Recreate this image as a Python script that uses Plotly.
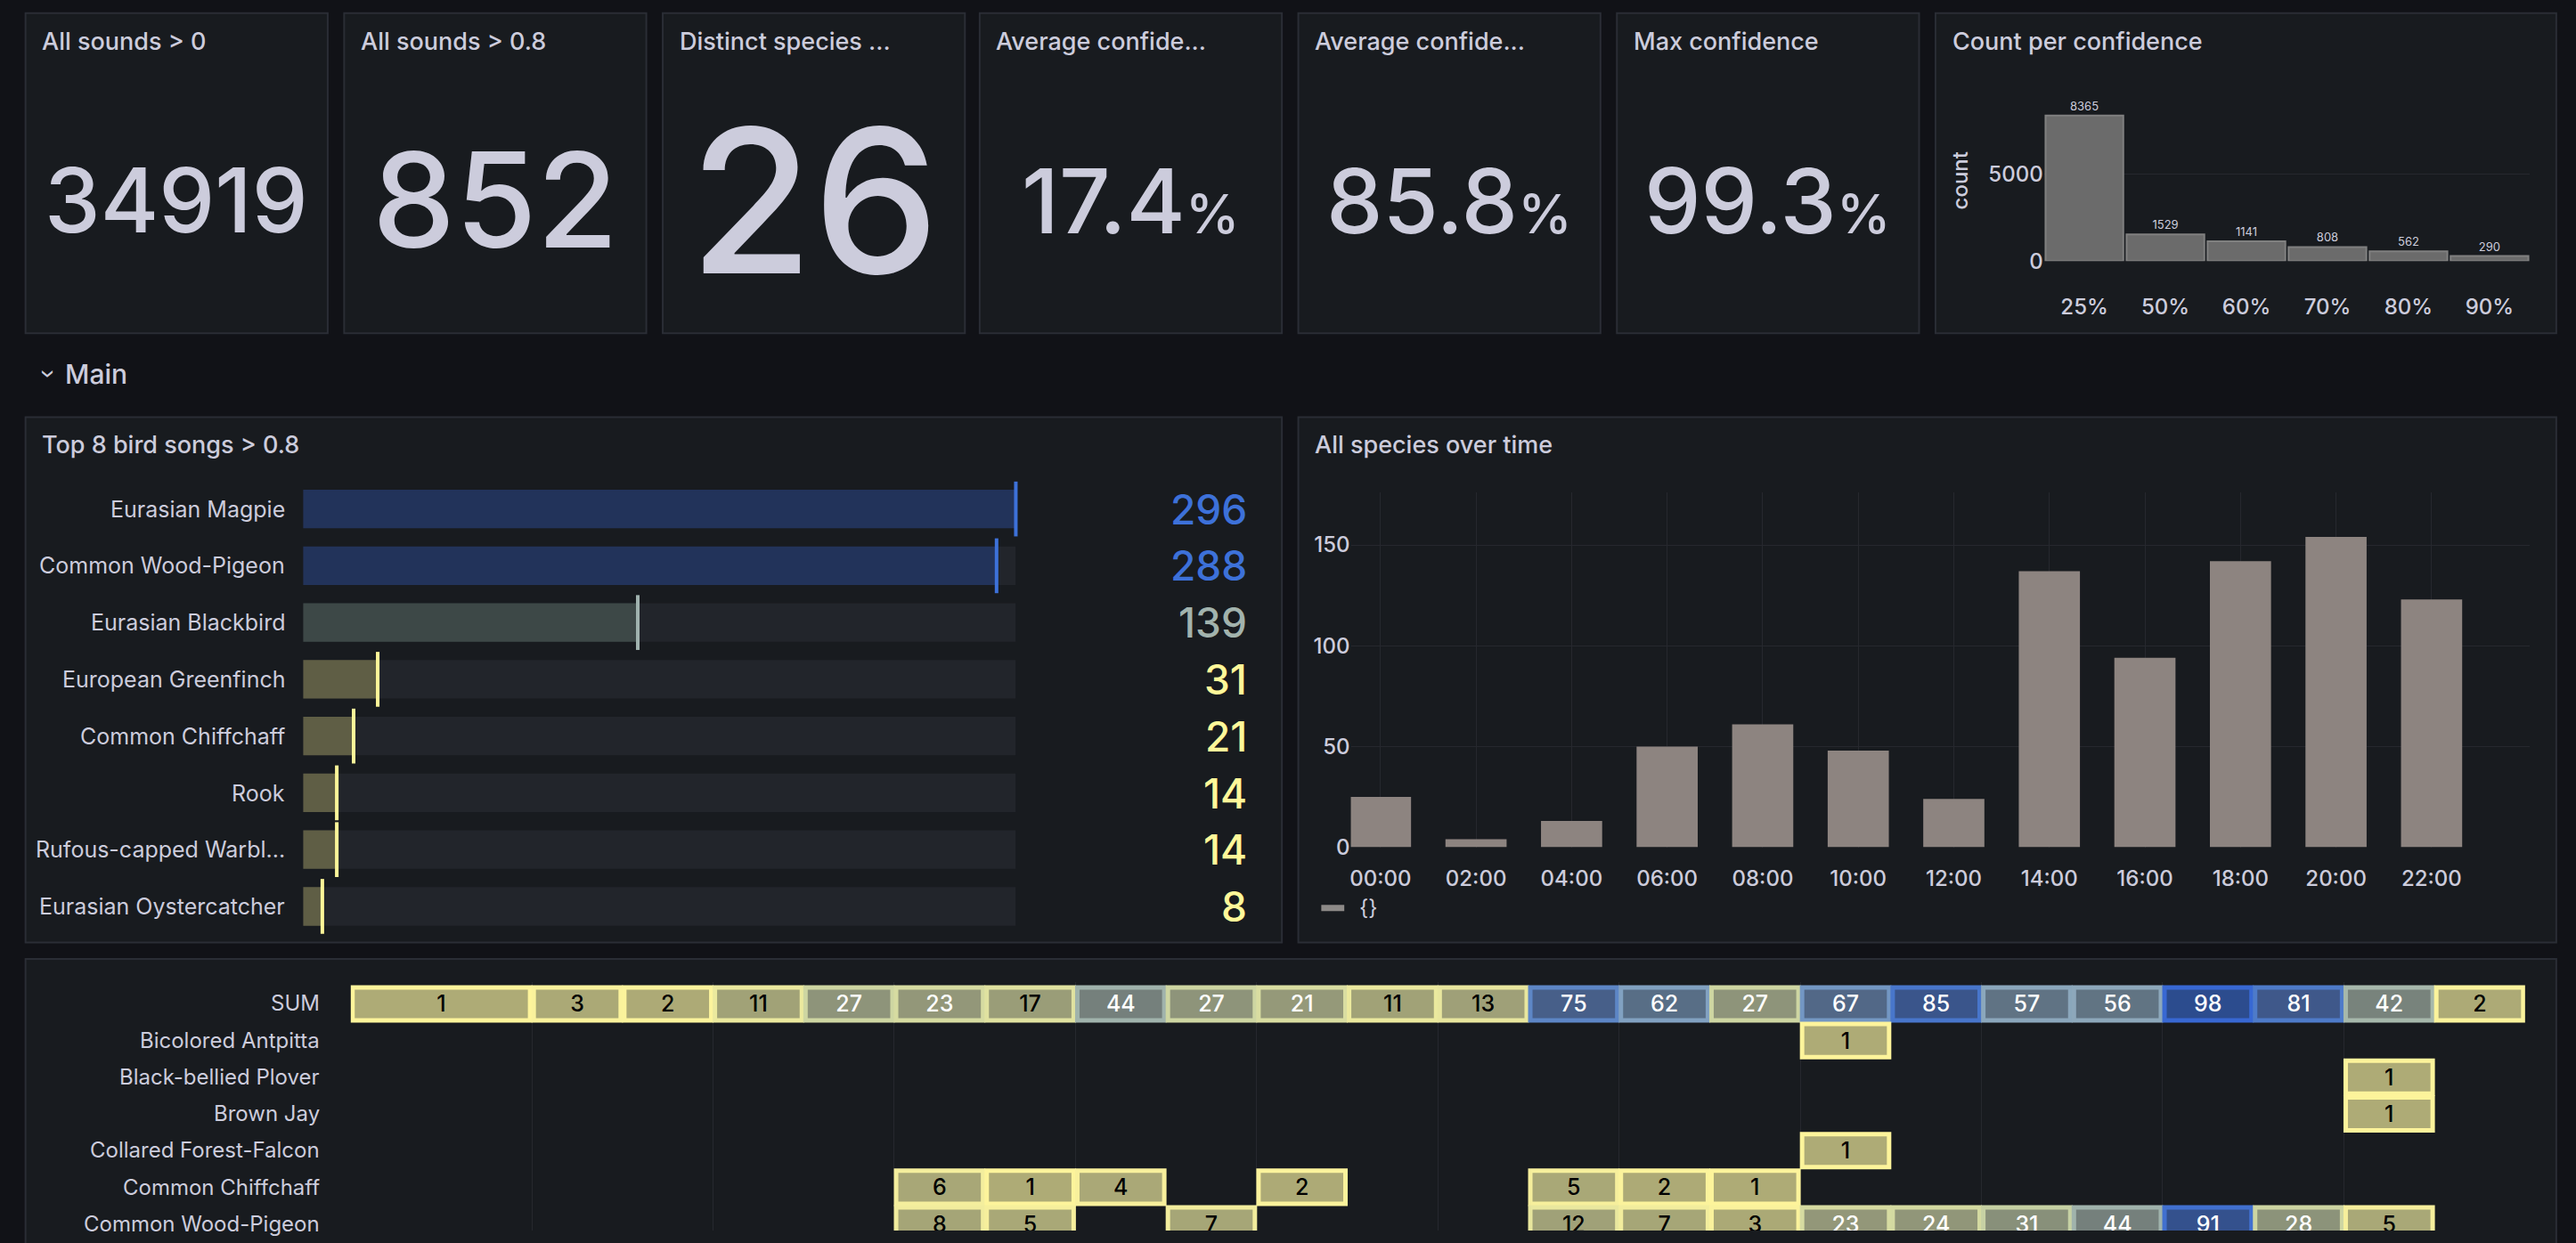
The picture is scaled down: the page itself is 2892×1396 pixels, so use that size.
import plotly.graph_objects as go

W, H = 2892, 1396
DW, DH = 1568, 757          # layout was measured on a 1568 wide screenshot
S = W / DW                  # px scale
YF = 0.99                   # rendered page comes out ~1% shorter


def px(x):
    return x / DW


def py(y):
    return 1 - (y / YF) / DH


BG = "#111217"
PANEL = "#181b1f"
EDGE = "#2a2d35"
TXT = "#ccccdc"
GRID = "#26282e"
FONT = "Inter"

# ---- data --------------------------------------------------------------
stats = [
    ("All sounds > 0", "34919", "", 54),
    ("All sounds > 0.8", "852", "", 80),
    ("Distinct species ...", "26", "", 122),
    ("Average confide...", "17.4", "%", 55),
    ("Average confide...", "85.8", "%", 55),
    ("Max confidence", "99.3", "%", 55),
]
stat_x = [(15, 199), (209, 393), (403, 587), (596, 780), (790, 974), (984, 1168)]

conf_labels = ["25%", "50%", "60%", "70%", "80%", "90%"]
conf_counts = [8365, 1529, 1141, 808, 562, 290]

top_birds = ["Eurasian Magpie", "Common Wood-Pigeon", "Eurasian Blackbird",
             "European Greenfinch", "Common Chiffchaff", "Rook",
             "Rufous-capped Warbl...", "Eurasian Oystercatcher"]
top_counts = [296, 288, 139, 31, 21, 14, 14, 8]

hours = ["00:00", "02:00", "04:00", "06:00", "08:00", "10:00",
         "12:00", "14:00", "16:00", "18:00", "20:00", "22:00"]
hour_counts = [25, 4, 13, 50, 61, 48, 24, 137, 94, 142, 154, 123]

heat_rows = ["SUM", "Bicolored Antpitta", "Black-bellied Plover", "Brown Jay",
             "Collared Forest-Falcon", "Common Chiffchaff", "Common Wood-Pigeon"]
# (row, start hour, span, value)
heat_cells = [(0, 0, 2, 1)] + [(0, h, 1, v) for h, v in zip(
    range(2, 24),
    [3, 2, 11, 27, 23, 17, 44, 27, 21, 11, 13, 75, 62, 27, 67, 85, 57, 56, 98, 81, 42, 2])]
heat_cells += [(1, 16, 1, 1), (2, 22, 1, 1), (3, 22, 1, 1), (4, 16, 1, 1)]
heat_cells += [(5, h, 1, v) for h, v in [(6, 6), (7, 1), (8, 4), (10, 2), (13, 5), (14, 2), (15, 1)]]
heat_cells += [(6, h, 1, v) for h, v in [(6, 8), (7, 5), (9, 7), (13, 12), (14, 7), (15, 3),
                                          (16, 23), (17, 24), (18, 31), (19, 44), (20, 91),
                                          (21, 28), (22, 5)]]

# ---- colour scale for heat cells ---------------------------------------
stops = [(0, "#afac76", "#fff59b"), (30, "#8a917a", "#c9d3a3"), (45, "#737f7c", "#9db1ad"),
         (60, "#5b7086", "#87a5c0"), (80, "#40598a", "#4f7cc8"), (100, "#2a4a8f", "#3566d4")]


def mix(c1, c2, t):
    a = [int(c1[i:i + 2], 16) for i in (1, 3, 5)]
    b = [int(c2[i:i + 2], 16) for i in (1, 3, 5)]
    return "rgb(%d,%d,%d)" % tuple(round(a[i] + (b[i] - a[i]) * t) for i in range(3))


def cell_color(v):
    for (v0, f0, e0), (v1, f1, e1) in zip(stops[:-1], stops[1:]):
        if v <= v1:
            t = (v - v0) / (v1 - v0)
            return mix(f0, f1, t), mix(e0, e1, t)
    return stops[-1][1], stops[-1][2]


fig = go.Figure()
shapes, annotations = [], []


def panel(x0, y0, x1, y1, title=None):
    shapes.append(dict(type="rect", xref="paper", yref="paper", layer="below",
                       x0=px(x0), x1=px(x1), y0=py(y1), y1=py(y0),
                       fillcolor=PANEL, line=dict(color=EDGE, width=2)))
    if title:
        annotations.append(dict(text=title, xref="paper", yref="paper", x=px(x0 + 9), y=py(y0 + 17),
                                xanchor="left", yanchor="middle", showarrow=False,
                                font=dict(size=27, color=TXT, family=FONT, weight=500)))


def note(text, x, y, size, color=TXT, anchor="center", weight=400, **kw):
    annotations.append(dict(text=text, xref="paper", yref="paper", x=px(x), y=py(y),
                            xanchor=anchor, yanchor="middle", showarrow=False,
                            font=dict(size=size, color=color, family=FONT, weight=weight), **kw))


# ---- stat panels -------------------------------------------------------
for (title, val, unit, fs), (x0, x1) in zip(stats, stat_x):
    panel(x0, 8, x1, 203, title)
    if unit:
        txt = f"{val}<span style='font-size:{round(fs * 0.6 * S)}px'>{unit}</span>"
    else:
        txt = val
    note(txt, (x0 + x1) / 2, 122, round(fs * S), weight=500)

# ---- count per confidence ----------------------------------------------
panel(1178, 8, 1556, 203, "Count per confidence")
fig.add_trace(go.Bar(x=list(range(6)), y=conf_counts, width=0.96, xaxis="x", yaxis="y",
                     marker=dict(color="#6b6b6b", line=dict(color="#808080", width=2)),
                     text=conf_counts, textposition="outside", cliponaxis=False,
                     textfont=dict(size=13, color=TXT, family=FONT), showlegend=False))
note("count", 1193, 110, 24, textangle=-90, weight=500)

# ---- row header --------------------------------------------------------
note("›", 29, 228, 26, textangle=90)
note("Main", 38, 228, 30, anchor="left", weight=500)

# ---- top 8 bird songs --------------------------------------------------
panel(15, 254, 780, 574, "Top 8 bird songs > 0.8")


def gauge_cols(v):
    if v >= 200:
        return "#22335a", "#3d71d9", "#3d71d9"
    if v >= 100:
        return "#3d4847", "#9fb2ae", "#a2b3ad"
    return "#5f5e45", "#fff899", "#fff899"


g = [gauge_cols(v) for v in top_counts]
rows = list(range(len(top_birds)))
fig.add_trace(go.Bar(y=rows, x=[max(top_counts)] * len(rows), orientation="h", width=0.68,
                     xaxis="x2", yaxis="y2", marker=dict(color="#22252b", line=dict(width=0)),
                     showlegend=False, hoverinfo="skip"))
fig.add_trace(go.Bar(y=rows, x=top_counts, orientation="h", width=0.68, xaxis="x2", yaxis="y2",
                     marker=dict(color=[c[0] for c in g], line=dict(width=0)), showlegend=False))
fig.add_trace(go.Scatter(y=rows, x=top_counts, mode="markers", xaxis="x2", yaxis="y2",
                         marker=dict(symbol="line-ns", size=44,
                                     line=dict(color=[c[1] for c in g], width=4)),
                         showlegend=False, cliponaxis=False))
row_y0, row_dy = 310, 34.6
for i, (name, v) in enumerate(zip(top_birds, top_counts)):
    note(name, 174, row_y0 + i * row_dy, 25, anchor="right")
    note(str(v), 760, row_y0 + i * row_dy, 46, color=g[i][2], anchor="right", weight=500)

# ---- all species over time ---------------------------------------------
panel(790, 254, 1556, 574, "All species over time")
fig.add_trace(go.Bar(x=list(range(12)), y=hour_counts, width=0.64, xaxis="x3", yaxis="y3",
                     marker=dict(color="#8d8480", line=dict(width=0)), showlegend=False))
shapes.append(dict(type="line", xref="paper", yref="paper", x0=px(804), x1=px(818),
                   y0=py(553), y1=py(553), line=dict(color="#8d8a88", width=7)))
note("{}", 826, 553, 24, anchor="left")

# ---- heat table --------------------------------------------------------
panel(15, 584, 1556, 800)
fills, edges, tcol = [], [], []
for r, h, span, v in heat_cells:
    f, e = cell_color(v)
    fills.append(f)
    edges.append(e)
    tcol.append("#ffffff" if v >= 20 else "#000000")
fig.add_trace(go.Bar(y=[c[0] for c in heat_cells], x=[c[2] - 0.04 for c in heat_cells],
                     base=[c[1] + 0.02 for c in heat_cells], orientation="h", width=0.9,
                     xaxis="x4", yaxis="y4",
                     marker=dict(color=fills, line=dict(color=edges, width=5)),
                     text=[c[3] for c in heat_cells], textposition="inside",
                     insidetextanchor="middle", constraintext="none",
                     textfont=dict(size=25, color=tcol, family=FONT, weight=500),
                     showlegend=False))
heat_top, heat_dy = 611, 22.4
for i, name in enumerate(heat_rows):
    note(name, 195, heat_top + i * heat_dy, 24, anchor="right")
heat_bottom = DH * YF       # display y of the bottom of the page
heat_ymax = (heat_bottom - heat_top) / heat_dy

# ---- layout ------------------------------------------------------------
hidden = dict(visible=False, fixedrange=True)
tick = dict(size=24, color=TXT, family=FONT, weight=500)
fig.update_layout(
    width=W, height=H, margin=dict(l=0, r=0, t=0, b=0),
    paper_bgcolor=BG, plot_bgcolor="rgba(0,0,0,0)", barmode="overlay",
    font=dict(family=FONT, color=TXT),
    shapes=shapes, annotations=annotations,
    xaxis=dict(domain=[px(1244), px(1540)], range=[-0.5, 5.5], tickvals=list(range(6)),
               ticktext=conf_labels, tickfont=tick, showgrid=False, zeroline=False,
               showline=False, ticks="outside", ticklen=30, tickcolor="rgba(0,0,0,0)"),
    yaxis=dict(domain=[py(159), py(62)], range=[0, 9151], tickvals=[0, 5000], tickfont=tick,
               gridcolor=GRID, zeroline=False, anchor="x", position=px(1244)),
    xaxis2=dict(domain=[px(184), px(618)], range=[0, 296], **hidden),
    yaxis2=dict(domain=[py(569.3), py(292.7)], range=[7.5, -0.5], **hidden),
    xaxis3=dict(domain=[px(822), px(1540)], range=[-0.31, 12.03], tickvals=list(range(12)),
                ticktext=hours, tickfont=tick, gridcolor=GRID, showgrid=True, zeroline=False,
                ticks="outside", ticklen=14, tickcolor="rgba(0,0,0,0)", anchor="y3"),
    yaxis3=dict(domain=[py(516), py(300)], range=[0, 176], tickvals=[0, 50, 100, 150],
                tickfont=tick, gridcolor=GRID, zeroline=False, anchor="x3"),
    xaxis4=dict(domain=[px(213), px(1537)], range=[0, 24], dtick=2, showgrid=True,
                gridcolor=GRID, showticklabels=False, zeroline=False, anchor="y4"),
    yaxis4=dict(domain=[0, py(598)], range=[heat_ymax, -0.6], visible=False, anchor="x4"),
)

fig.write_html("out.html", config={"displayModeBar": False},
               post_script="document.body.style.margin='0';")
